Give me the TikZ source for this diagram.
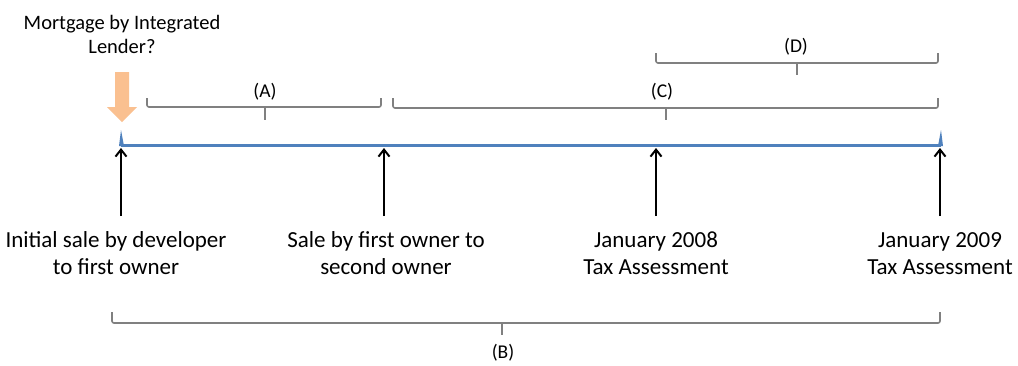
\documentclass[tikz,border=0pt]{standalone}
\usepackage{fontspec}
\setmainfont{Carlito}
\usetikzlibrary{arrows.meta}
\definecolor{tlblue}{HTML}{4F81BD}
\definecolor{brgray}{HTML}{808080}
\definecolor{morange}{HTML}{FAC090}
\tikzset{
  lbl/.style={font=\fontsize{23}{27}\selectfont, align=center, inner sep=0pt},
  small/.style={font=\fontsize{20.5}{24}\selectfont, align=center, inner sep=0pt},
  brlbl/.style={font=\fontsize{19.5}{22}\selectfont, inner sep=0pt},
  evarrow/.style={line width=2pt, -{Straight Barb[length=7pt,width=11pt,line width=2pt]}},
  brk/.style={draw=brgray, line width=1.6pt, rounded corners=2pt},
}
\begin{document}
\begin{tikzpicture}[x=1pt,y=-1pt]
\useasboundingbox (0,0) rectangle (1018,365);
% timeline
\coordinate (t0) at (121,145);
\coordinate (t1) at (941,145);
\draw[tlblue, line width=3pt] (t0) -- (t1);
\fill[tlblue] (119,146) -- (121,130) -- (124,146) -- cycle;
\fill[tlblue] (938,146) -- (941,130) -- (943,146) -- cycle;
% event points
\coordinate (e1) at (121,148);
\coordinate (e2) at (384,148);
\coordinate (e3) at (656,148);
\coordinate (e4) at (940,148);
\coordinate (s1) at (121,216);
\coordinate (s2) at (384,216);
\coordinate (s3) at (656,216);
\coordinate (s4) at (940,216);
\draw[evarrow] (s1) -- (e1);
\draw[evarrow] (s2) -- (e2);
\draw[evarrow] (s3) -- (e3);
\draw[evarrow] (s4) -- (e4);
% labels
\node[lbl, anchor=base] (l1) at (116,274) {Initial sale by developer\\to first owner};
\node[lbl, anchor=base] (l2) at (386,274) {Sale by first owner to\\second owner};
\node[lbl, anchor=base] (l3) at (656,274) {January 2008\\Tax Assessment};
\node[lbl, anchor=base] (l4) at (940,274) {January 2009\\Tax Assessment};
% mortgage arrow
\node[small, anchor=base] (mt) at (122,53) {Mortgage by Integrated\\Lender?};
\fill[morange] (115,72) -- (129,72) -- (129,107) -- (137,107) -- (122,122) -- (107,107) -- (115,107) -- cycle;
% bracket A
\draw[brk] (147,98) -- (147,107) -- (381,107) -- (381,98);
\draw[brk, rounded corners=0pt] (265,107) -- (265,120);
\node[brlbl] (bA) at (265,92) {(A)};
% bracket C
\draw[brk] (393,98) -- (393,108) -- (938,108) -- (938,98);
\draw[brk, rounded corners=0pt] (666,108) -- (666,120);
\node[brlbl] (bC) at (662,92) {(C)};
% bracket D
\draw[brk] (656,53) -- (656,63) -- (938,63) -- (938,53);
\draw[brk, rounded corners=0pt] (797,63) -- (797,75);
\node[brlbl] (bD) at (796,47) {(D)};
% bracket B
\draw[brk] (112,312) -- (112,323) -- (940,323) -- (940,312);
\draw[brk, rounded corners=0pt] (502,323) -- (502,335);
\node[brlbl] (bB) at (503,353) {(B)};
\end{tikzpicture}
\end{document}
